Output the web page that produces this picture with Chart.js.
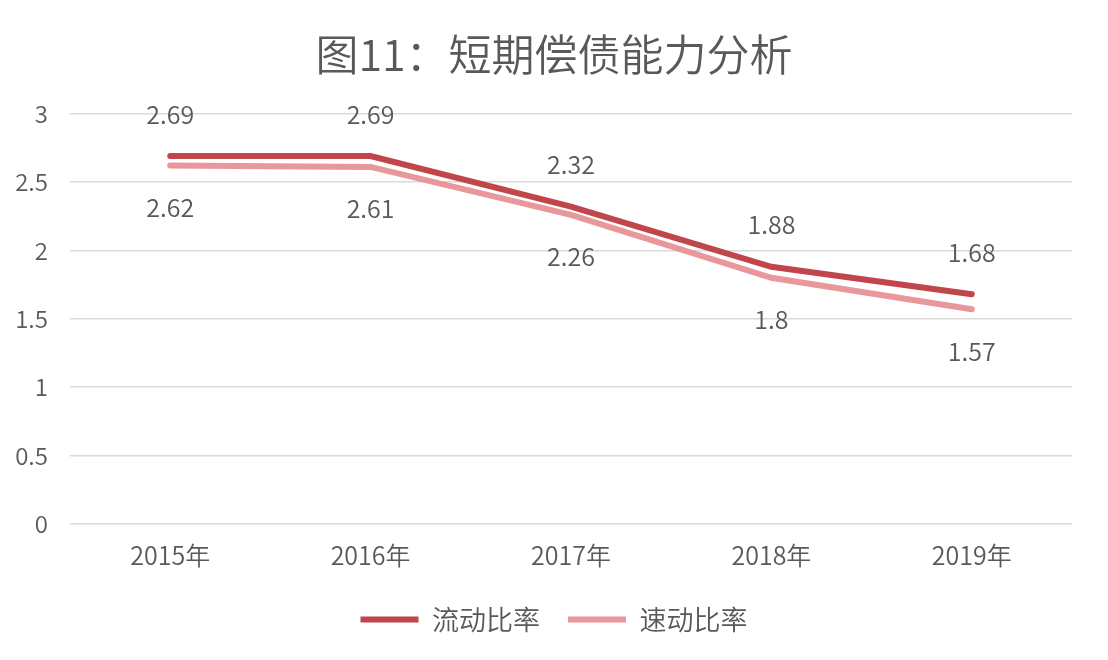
<!DOCTYPE html>
<html>
<head>
<meta charset="utf-8">
<script src="https://cdn.jsdelivr.net/npm/chart.js@4/dist/chart.umd.min.js"></script>
<style>
  html, body { margin: 0; padding: 0; background: #ffffff; }
  #wrap { width: 1108px; height: 660px; }
</style>
</head>
<body>
<div id="wrap"><canvas id="chart"></canvas></div>
<script>
// dati del grafico
const anni = ["2015年", "2016年", "2017年", "2018年", "2019年"];
const liuDong = [2.69, 2.69, 2.32, 1.88, 1.68];   // 流动比率
const suDong = [2.62, 2.61, 2.26, 1.8, 1.57];     // 速动比率
const yTicks = [0, 0.5, 1, 1.5, 2, 2.5, 3];

const colori = {
  rosso: "#c0464b",
  rosa: "#e8979b",
  testo: "#595959",
  griglia: "#d9d9d9",
};

const famiglia = "'Noto Sans CJK SC', 'Liberation Sans', sans-serif";
const peso = 350;
Chart.defaults.font.family = famiglia;
Chart.defaults.font.weight = peso;
Chart.defaults.color = colori.testo;

// etichette dei valori sopra/sotto le linee
const etichette = {
  id: "etichette",
  afterDatasetsDraw(chart) {
    const ctx = chart.ctx;
    ctx.save();
    ctx.font = peso + " 25px " + famiglia;
    ctx.fillStyle = colori.testo;
    ctx.textAlign = "center";
    ctx.textBaseline = "middle";
    chart.data.datasets.forEach((ds, i) => {
      const meta = chart.getDatasetMeta(i);
      const dy = i === 0 ? -42 : 42;
      meta.data.forEach((pt, j) => {
        ctx.fillText(String(ds.data[j]), pt.x, pt.y + dy);
      });
    });
    ctx.restore();
  },
};

new Chart(document.getElementById("chart"), {
  type: "line",
  data: {
    labels: anni,
    datasets: [
      {
        label: "流动比率",
        data: liuDong,
        borderColor: colori.rosso,
        backgroundColor: colori.rosso,
        borderWidth: 6,
        pointRadius: 0,
        tension: 0,
        borderCapStyle: "round",
      },
      {
        label: "速动比率",
        data: suDong,
        borderColor: colori.rosa,
        backgroundColor: colori.rosa,
        borderWidth: 6,
        pointRadius: 0,
        tension: 0,
        borderCapStyle: "round",
      },
    ],
  },
  options: {
    responsive: true,
    maintainAspectRatio: false,
    animation: false,
    layout: { padding: { left: 15, right: 15, top: 0, bottom: 17 } },
    scales: {
      x: {
        offset: true,
        grid: { display: false, drawTicks: false },
        border: { display: false },
        ticks: { font: { size: 25, weight: peso }, padding: 16, color: colori.testo },
        afterFit(scale) { scale.height -= 8; },
      },
      y: {
        min: 0,
        max: 3,
        afterBuildTicks(scale) { scale.ticks = yTicks.map(v => ({ value: v })); },
        grid: { color: colori.griglia, lineWidth: 1.5, drawTicks: false },
        border: { display: false },
        ticks: {
          font: { size: 24, weight: peso },
          padding: 22,
          color: colori.testo,
          callback: (v) => String(v),
        },
        afterFit(scale) { scale.width = 55; },
      },
      // asse vuoto a destra, solo per bilanciare i margini
      destra: {
        position: "right",
        grid: { display: false, drawTicks: false },
        border: { display: false },
        ticks: { display: false },
        afterFit(scale) { scale.width = 21; },
      },
    },
    plugins: {
      title: {
        display: true,
        text: "图11：短期偿债能力分析",
        font: { size: 43, weight: peso },
        color: colori.testo,
        padding: { top: 29, bottom: 33 },
      },
      legend: {
        position: "bottom",
        labels: {
          usePointStyle: true,
          pointStyle: "line",
          pointStyleWidth: 58,
          padding: 28,
          font: { size: 27, weight: peso },
          color: colori.testo,
        },
      },
      tooltip: { enabled: false },
    },
  },
  plugins: [etichette],
});
</script>
</body>
</html>
